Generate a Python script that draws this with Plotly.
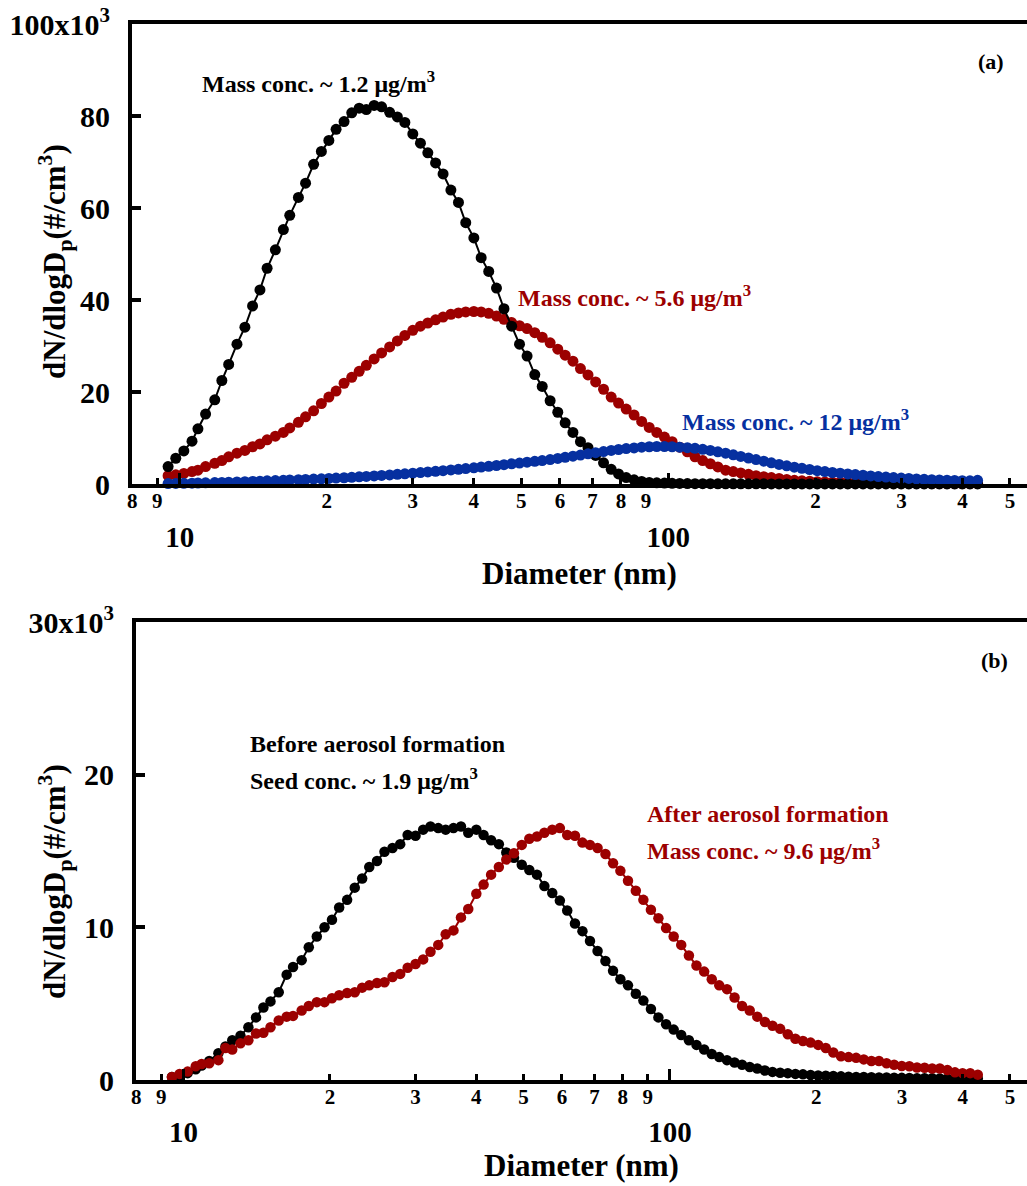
import plotly.graph_objects as go

# ---------------- data ----------------
diameter_nm = [
    9.47, 9.82, 10.2, 10.6, 10.9, 11.3, 11.8, 12.2, 12.6, 13.1,
    13.6, 14.1, 14.6, 15.1, 15.7, 16.3, 16.8, 17.5, 18.1, 18.8,
    19.5, 20.2, 20.9, 21.7, 22.5, 23.3, 24.1, 25.0, 25.9, 26.9,
    27.9, 28.9, 30.0, 31.1, 32.2, 33.4, 34.6, 35.9, 37.2, 38.5,
    40.0, 41.4, 42.9, 44.5, 46.1, 47.8, 49.6, 51.4, 53.3, 55.2,
    57.3, 59.4, 61.5, 63.8, 66.1, 68.5, 71.0, 73.7, 76.4, 79.1,
    82.0, 85.1, 88.2, 91.4, 94.7, 98.2, 101.8, 105.5, 109.4, 113.4,
    117.6, 121.9, 126.3, 131.0, 135.8, 140.7, 145.9, 151.2, 156.8, 162.5,
    168.5, 174.7, 181.1, 187.7, 194.6, 201.7, 209.1, 216.7, 224.7, 232.9,
    241.4, 250.3, 259.5, 269.0, 278.8, 289.0, 299.6, 310.6, 322.0, 333.8,
    346.0, 358.7, 371.8, 385.4, 399.5, 414.2, 429.4,
]

# panel (a): dN/dlogDp in units of 10^3 #/cm3
a_mass_1_2 = [
    3.8, 5.6, 7.2, 9.3, 12.0, 15.2, 18.3, 22.5, 26.0, 30.4,
    34.1, 38.7, 42.2, 46.9, 50.9, 55.3, 58.4, 62.3, 65.4, 69.5,
    72.3, 74.7, 77.1, 78.8, 80.7, 81.7, 81.4, 82.3, 82.0, 80.8,
    79.8, 78.6, 76.1, 74.1, 72.0, 69.8, 67.4, 63.9, 61.2, 56.8,
    53.5, 49.2, 46.2, 42.6, 38.1, 34.3, 30.4, 27.8, 23.8, 21.2,
    18.1, 15.6, 13.3, 11.2, 9.2, 7.9, 6.2, 4.6, 3.2, 2.2,
    1.4, 0.9, 0.55, 0.35, 0.25, 0.2, 0.15, 0.12, 0.1, 0.08,
    0.07, 0.06, 0.05, 0.05, 0.04, 0.04, 0.03, 0.03, 0.03, 0.02,
    0.02, 0.02, 0.02, 0.02, 0.02, 0.02, 0.02, 0.02, 0.02, 0.02,
    0.02, 0.02, 0.01, 0.01, 0.01, 0.01, 0.01, 0.01, 0.01, 0.01,
    0.01, 0.01, 0.01, 0.01, 0.01, 0.01, 0.01,
]
a_mass_5_6 = [
    1.8, 2.0, 2.3, 2.7, 3.0, 3.8, 4.5, 5.1, 5.9, 6.7,
    7.3, 8.1, 8.7, 9.6, 10.4, 11.2, 12.2, 13.4, 14.6, 15.9,
    17.5, 18.9, 20.2, 21.9, 23.2, 24.5, 25.8, 27.2, 28.5, 29.8,
    31.1, 32.3, 33.4, 34.3, 35.0, 35.7, 36.3, 36.9, 37.2, 37.4,
    37.5, 37.4, 37.1, 36.5, 35.8, 35.1, 34.4, 33.8, 32.9, 31.9,
    30.7, 29.3, 28.0, 26.7, 25.1, 23.7, 22.2, 20.6, 18.9, 17.6,
    16.3, 15.0, 13.6, 12.3, 11.2, 10.2, 9.2, 8.0, 7.0, 5.9,
    5.1, 4.4, 3.7, 3.0, 2.7, 2.4, 2.1, 1.8, 1.6, 1.4,
    1.2, 1.0, 0.8, 0.7, 0.6, 0.5, 0.45, 0.4, 0.4, 0.35,
    0.3, 0.3, 0.25, 0.25, 0.2, 0.2, 0.2, 0.15, 0.15, 0.15,
    0.1, 0.1, 0.1, 0.1, 0.1, 0.1, 0.1,
]
a_mass_12 = [
    0.10, 0.12, 0.15, 0.18, 0.22, 0.26, 0.30, 0.35, 0.40, 0.45,
    0.50, 0.56, 0.62, 0.68, 0.74, 0.80, 0.87, 0.94, 1.00, 1.06,
    1.12, 1.20, 1.28, 1.36, 1.45, 1.55, 1.65, 1.76, 1.87, 1.98,
    2.10, 2.22, 2.35, 2.48, 2.62, 2.76, 2.90, 3.05, 3.20, 3.36,
    3.52, 3.68, 3.85, 4.02, 4.20, 4.38, 4.56, 4.74, 4.92, 5.10,
    5.30, 5.55, 5.80, 6.05, 6.30, 6.55, 6.80, 7.05, 7.30, 7.50,
    7.70, 7.85, 8.00, 8.10, 8.15, 8.15, 8.10, 8.00, 7.90, 7.75,
    7.55, 7.30, 7.00, 6.70, 6.35, 6.00, 5.65, 5.30, 4.95, 4.60,
    4.25, 3.95, 3.65, 3.40, 3.15, 2.90, 2.70, 2.50, 2.35, 2.20,
    2.05, 1.90, 1.75, 1.62, 1.50, 1.40, 1.30, 1.20, 1.10, 1.02,
    0.95, 0.88, 0.82, 0.77, 0.73, 0.70, 0.80,
]

# panel (b)
b_before = [
    0.2, 0.3, 0.45, 0.7, 0.95, 1.25, 1.75, 2.2, 2.6, 2.9,
    3.45, 4.1, 4.75, 5.15, 5.75, 6.9, 7.4, 7.85, 8.7, 9.4,
    10.0, 10.5, 11.3, 11.8, 12.6, 13.2, 13.95, 14.35, 14.95, 15.2,
    15.45, 16.05, 16.0, 16.4, 16.6, 16.5, 16.4, 16.5, 16.6, 16.2,
    16.4, 16.05, 15.7, 15.45, 14.9, 14.55, 14.1, 13.75, 13.45, 12.7,
    12.25, 11.75, 11.1, 10.25, 9.75, 9.1, 8.45, 7.8, 7.15, 6.6,
    6.2, 5.65, 5.2, 4.65, 4.1, 3.65, 3.3, 2.95, 2.6, 2.3,
    2.0, 1.7, 1.5, 1.3, 1.15, 1.0, 0.85, 0.75, 0.62, 0.53,
    0.48, 0.45, 0.4, 0.37, 0.33, 0.3, 0.28, 0.26, 0.24, 0.22,
    0.2, 0.2, 0.18, 0.17, 0.16, 0.15, 0.14, 0.13, 0.12, 0.12,
    0.11, 0.1, 0.1, 0.1, 0.1, 0.1, 0.1,
]
b_after = [
    0.2, 0.4, 0.55, 0.9, 1.05, 1.1, 1.3, 2.1, 2.0, 2.4,
    2.6, 3.05, 3.1, 3.45, 3.9, 4.15, 4.2, 4.55, 4.85, 5.1,
    5.1, 5.35, 5.55, 5.7, 5.75, 6.05, 6.2, 6.35, 6.4, 6.75,
    6.95, 7.35, 7.6, 7.9, 8.4, 8.85, 9.55, 9.8, 10.65, 11.2,
    12.2, 12.8, 13.45, 13.95, 14.45, 14.85, 15.4, 15.8, 15.95, 16.2,
    16.4, 16.5, 16.05, 16.0, 15.55, 15.4, 15.2, 14.8, 14.2, 13.7,
    13.05, 12.4, 11.8, 11.15, 10.6, 9.95, 9.4, 8.85, 8.15, 7.5,
    7.1, 6.6, 6.2, 5.95, 5.4, 4.85, 4.55, 4.15, 3.8, 3.55,
    3.35, 3.0, 2.7, 2.55, 2.45, 2.3, 2.1, 1.8, 1.55, 1.5,
    1.45, 1.35, 1.25, 1.25, 1.1, 1.0, 0.92, 0.9, 0.82, 0.8,
    0.75, 0.75, 0.65, 0.5, 0.45, 0.45, 0.35,
]

minor_tick_vals = [8, 9, 20, 30, 40, 50, 60, 70, 80, 90, 200, 300, 400, 500]
minor_tick_text = ["8", "9", "2", "3", "4", "5", "6", "7", "8", "9", "2", "3", "4", "5"]
major_tick_vals = [10, 100]
major_tick_text = ["10", "100"]
a_y_vals = [0, 20, 40, 60, 80, 100]
a_y_text = ["0", "20", "40", "60", "80", "100x10<sup>3</sup>"]
b_y_vals = [0, 10, 20, 30]
b_y_text = ["0", "10", "20", "30x10<sup>3</sup>"]

# ---------------- styling ----------------
W, H = 1027, 1186
FONT = "Liberation Serif"
BLACK = "#000000"
RED = "#9c0000"
BLUE = "#0630a0"

def px_y(y):
    return (H - y) / H

def px_x(x):
    return x / W

fig = go.Figure()

def add_series(x, y, color, xa, ya, size):
    fig.add_trace(go.Scatter(
        x=x, y=y, mode="lines+markers", xaxis=xa, yaxis=ya,
        line=dict(color=color, width=2),
        marker=dict(color=color, size=size, line=dict(width=0)),
        cliponaxis=False, showlegend=False, hoverinfo="x+y",
    ))

add_series(diameter_nm, a_mass_5_6, RED, "x", "y", 11)
add_series(diameter_nm, a_mass_1_2, BLACK, "x", "y", 11)
add_series(diameter_nm, a_mass_12, BLUE, "x", "y", 11)
add_series(diameter_nm, b_before, BLACK, "x3", "y2", 10.5)
add_series(diameter_nm, b_after, RED, "x3", "y2", 10.5)

# invisible anchors so the decade-label axes are drawn
for xa, ya in (("x2", "y"), ("x4", "y2")):
    fig.add_trace(go.Scatter(
        x=major_tick_vals, y=[0, 0], mode="markers", xaxis=xa, yaxis=ya,
        marker=dict(opacity=0, size=1), showlegend=False, hoverinfo="skip",
    ))

xrange = [0.9025, 2.734]
a_dom_y = [px_y(484), px_y(24)]
b_dom_y = [px_y(1080), px_y(622)]
a_dom_x = [px_x(132), 1]
b_dom_x = [px_x(136), 1]

tick_font_minor = dict(family=FONT, size=21, color="black", weight="bold")
tick_font_major = dict(family=FONT, size=29, color="black", weight="bold")
title_font = dict(family=FONT, size=31, color="black", weight="bold")

def minor_axis(domain, anchor):
    return dict(
        type="log", range=xrange, domain=domain, anchor=anchor,
        tickmode="array", tickvals=minor_tick_vals, ticktext=minor_tick_text,
        ticks="inside", ticklen=6, tickwidth=3, tickcolor="black",
        tickfont=tick_font_minor, ticklabelstandoff=-5,
        showline=True, linewidth=4, linecolor="black", mirror=True,
        showgrid=False, zeroline=False, automargin=False,
    )

def major_axis(domain, anchor, overlay, lab_standoff, title_standoff):
    return dict(
        type="log", range=xrange, domain=domain, anchor=anchor, overlaying=overlay,
        tickmode="array", tickvals=major_tick_vals, ticktext=major_tick_text,
        ticks="inside", ticklen=11, tickwidth=3, tickcolor="black",
        tickfont=tick_font_major, ticklabelstandoff=lab_standoff,
        showline=False, showgrid=False, zeroline=False, automargin=False,
        title=dict(text="Diameter (nm)", font=title_font, standoff=title_standoff),
    )

def y_axis(domain, anchor, rng, vals, text):
    return dict(
        range=rng, domain=domain, anchor=anchor,
        tickmode="array", tickvals=vals, ticktext=text,
        ticks="inside", ticklen=9, tickwidth=4, tickcolor="black",
        tickfont=dict(family=FONT, size=30, color="black", weight="bold"),
        ticklabelstandoff=12,
        showline=True, linewidth=4, linecolor="black", mirror=False,
        showgrid=False, zeroline=False, automargin=False,
    )

fig.update_layout(
    width=W, height=H, autosize=False,
    margin=dict(l=0, r=0, t=0, b=0, autoexpand=False),
    paper_bgcolor="white", plot_bgcolor="white",
    xaxis=minor_axis(a_dom_x, "y"),
    xaxis2=major_axis(a_dom_x, "y", "x", 33, 10),
    xaxis3=minor_axis(b_dom_x, "y2"),
    xaxis4=major_axis(b_dom_x, "y2", "x3", 32, 6),
    yaxis=y_axis(a_dom_y, "x", [0, 100], a_y_vals, a_y_text),
    yaxis2=y_axis(b_dom_y, "x3", [0, 30], b_y_vals, b_y_text),
)

ann_font = 24

def note(text, x, y, color, size=ann_font):
    fig.add_annotation(
        text=text, xref="paper", yref="paper", x=px_x(x), y=px_y(y),
        xanchor="left", yanchor="middle", showarrow=False,
        font=dict(family=FONT, size=size, color=color, weight="bold"),
    )

note("Mass conc. ~ 1.2 \u03bcg/m<sup>3</sup>", 200, 82, BLACK)
note("Mass conc. ~ 5.6 \u03bcg/m<sup>3</sup>", 516, 296, RED)
note("Mass conc. ~ 12 \u03bcg/m<sup>3</sup>", 680, 420, BLUE)
note("(a)", 976, 62, BLACK, 22)
note("(b)", 979, 660, BLACK, 22)
note("Before aerosol formation", 248, 744, BLACK)
note("Seed conc. ~ 1.9 \u03bcg/m<sup>3</sup>", 248, 779, BLACK)
note("After aerosol formation", 645, 814, RED)
note("Mass conc. ~ 9.6 \u03bcg/m<sup>3</sup>", 645, 849, RED)

for yc in (262, 882):
    fig.add_annotation(
        text="dN/dlogD<sub>p</sub>(#/cm<sup>3</sup>)", xref="paper", yref="paper",
        x=px_x(55), y=px_y(yc), xanchor="center", yanchor="middle",
        textangle=-90, showarrow=False, font=title_font,
    )

fig.write_html("out.html")
